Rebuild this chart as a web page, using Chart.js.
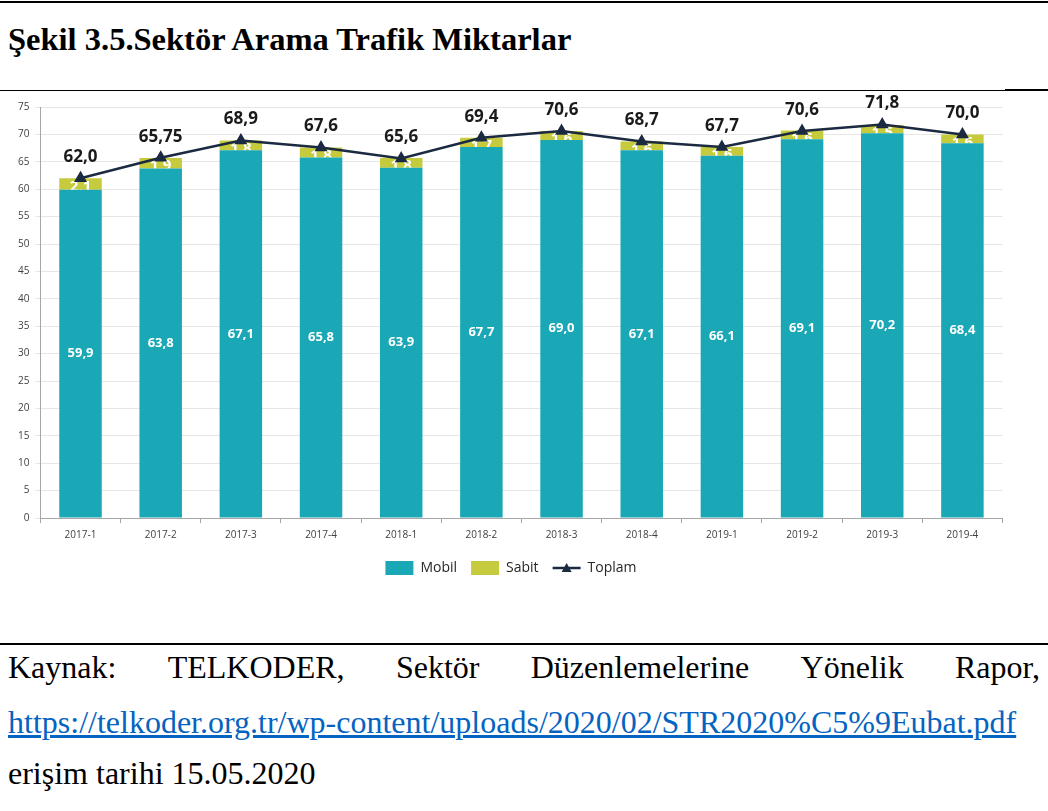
<!DOCTYPE html>
<html>
<head>
<meta charset="utf-8">
<script src="https://cdn.jsdelivr.net/npm/chart.js@4"></script>
<style>
  body { margin: 0; width: 1048px; height: 811px; position: relative; background: #fff; font-family: "Liberation Serif", "Times New Roman", serif; overflow: hidden; }
  .rule { position: absolute; left: 0; background: #000; }
  #title { position: absolute; left: 8px; top: 21px; font-size: 32.5px; line-height: 37px; font-weight: bold; margin: 0; }
  #box { position: absolute; left: 0; top: 95px; width: 1010px; height: 490px; }
  .src { position: absolute; left: 8px; right: 8px; font-size: 32px; line-height: 36px; color: #000; }
  #l1 { top: 649px; display: flex; justify-content: space-between; }
  #l2 { top: 704px; }
  #l2 a { color: #0563c1; text-decoration: underline; }
  #l3 { top: 755px; }
</style>
</head>
<body>
<div class="rule" style="top:1px;width:1048px;height:2px"></div>
<h1 id="title">Şekil 3.5.Sektör Arama Trafik Miktarlar</h1>
<div class="rule" style="top:90px;width:1005px;height:1px"></div>
<div class="rule" style="top:89px;left:1005px;width:43px;height:2px"></div>
<div id="box"><canvas id="chart"></canvas></div>
<div class="rule" style="top:643px;width:1048px;height:2px"></div>
<div class="src" id="l1"><span>Kaynak:</span><span>TELKODER,</span><span>Sektör</span><span>Düzenlemelerine</span><span>Yönelik</span><span>Rapor,</span></div>
<div class="src" id="l2"><a href="#">https://telkoder.org.tr/wp-content/uploads/2020/02/STR2020%C5%9Eubat.pdf</a></div>
<div class="src" id="l3">erişim tarihi 15.05.2020</div>
<script>
const quarters = ['2017-1', '2017-2', '2017-3', '2017-4', '2018-1', '2018-2', '2018-3', '2018-4', '2019-1', '2019-2', '2019-3', '2019-4']
const mobil = [59.9, 63.8, 67.1, 65.8, 63.9, 67.7, 69.0, 67.1, 66.1, 69.1, 70.2, 68.4]
const sabit = [2.1, 1.9, 1.8, 1.8, 1.8, 1.7, 1.6, 1.6, 1.6, 1.6, 1.5, 1.6]
const toplam = [62.0, 65.75, 68.9, 67.6, 65.6, 69.4, 70.6, 68.7, 67.7, 70.6, 71.8, 70.0]

const fmt = v => (Math.round(v * 10) === v * 10 ? v.toFixed(1) : String(v)).replace('.', ',')

// bar labels go in before the line is drawn, line labels after
const valueLabels = {
  id: 'valueLabels',
  afterDatasetDraw(chart, args) {
    const i = args.index
    const ds = chart.data.datasets[i]
    const ctx = chart.ctx
    ctx.save()
    ctx.textAlign = 'center'
    ctx.textBaseline = 'middle'
    args.meta.data.forEach((el, j) => {
      const v = ds.data[j]
      if (ds.type === 'line') {
        ctx.fillStyle = '#1a1a1a'
        ctx.font = 'bold 17px "Open Sans", sans-serif'
        ctx.fillText(fmt(v), el.x, el.y - 21)
      } else if (i === 0) {
        ctx.fillStyle = '#ffffff'
        ctx.font = 'bold 13px "Open Sans", sans-serif'
        ctx.fillText(fmt(v), el.x, (el.y + el.base) / 2)
      } else {
        ctx.fillStyle = '#ffffff'
        ctx.font = 'bold 15px "Open Sans", sans-serif'
        ctx.fillText(fmt(v), el.x, el.y + 8)
      }
    })
    ctx.restore()
  }
}

// triangle marker on the Toplam legend line
const legendMarker = {
  id: 'legendMarker',
  afterDraw(chart) {
    const lg = chart.legend
    if (!lg || !lg.legendHitBoxes[2]) return
    const hb = lg.legendHitBoxes[2]
    const ctx = chart.ctx
    const cx = hb.left + 14
    const cy = hb.top + hb.height / 2
    ctx.save()
    ctx.fillStyle = '#1b2a41'
    ctx.beginPath()
    ctx.moveTo(cx, cy - 5)
    ctx.lineTo(cx + 5, cy + 4)
    ctx.lineTo(cx - 5, cy + 4)
    ctx.closePath()
    ctx.fill()
    ctx.restore()
  }
}

new Chart(document.getElementById('chart'), {
  data: {
    labels: quarters,
    datasets: [
      {
        type: 'bar',
        label: 'Mobil',
        data: mobil,
        backgroundColor: '#1aa7b6',
        stack: 's',
        order: 2
      },
      {
        type: 'bar',
        label: 'Sabit',
        data: sabit,
        backgroundColor: '#c6cb3e',
        stack: 's',
        order: 2
      },
      {
        type: 'line',
        label: 'Toplam',
        data: toplam,
        borderColor: '#1b2a41',
        backgroundColor: '#1b2a41',
        borderWidth: 2.5,
        pointStyle: 'triangle',
        pointRadius: 5,
        pointBackgroundColor: '#1b2a41',
        tension: 0,
        order: 1
      }
    ]
  },
  options: {
    responsive: true,
    maintainAspectRatio: false,
    animation: false,
    layout: { padding: { left: 12, right: 0, top: 0, bottom: 0 } },
    datasets: { bar: { categoryPercentage: 1, barPercentage: 0.53 } },
    scales: {
      x: {
        stacked: true,
        offset: true,
        grid: { offset: true, drawOnChartArea: false, drawTicks: true, tickLength: 5, color: '#a6a6a6' },
        border: { display: true, color: '#a6a6a6' },
        ticks: { color: '#404040', font: { family: '"Open Sans", sans-serif', size: 10 }, padding: 6 }
      },
      y: {
        stacked: true,
        min: 0,
        max: 75,
        grid: { color: '#e6e6e6', drawTicks: true, tickLength: 5 },
        border: { display: true, color: '#a6a6a6' },
        ticks: { stepSize: 5, color: '#404040', font: { family: '"Open Sans", sans-serif', size: 10 }, padding: 6 }
      }
    },
    plugins: {
      legend: {
        position: 'bottom',
        labels: {
          usePointStyle: true,
          pointStyleWidth: 28,
          color: '#262626',
          font: { family: '"Open Sans", sans-serif', size: 14 },
          padding: 14,
          boxHeight: 14,
          sort: (a, b) => a.datasetIndex - b.datasetIndex,
          generateLabels(chart) {
            const items = Chart.defaults.plugins.legend.labels.generateLabels(chart)
            items.forEach(it => {
              if (it.datasetIndex === 2) {
                it.pointStyle = 'line'
                it.lineWidth = 2.5
                it.strokeStyle = '#1b2a41'
              } else {
                it.pointStyle = 'rect'
                it.lineWidth = 0
              }
            })
            return items
          }
        }
      },
      tooltip: { enabled: false }
    }
  },
  plugins: [valueLabels, legendMarker]
})
</script>
</body>
</html>
